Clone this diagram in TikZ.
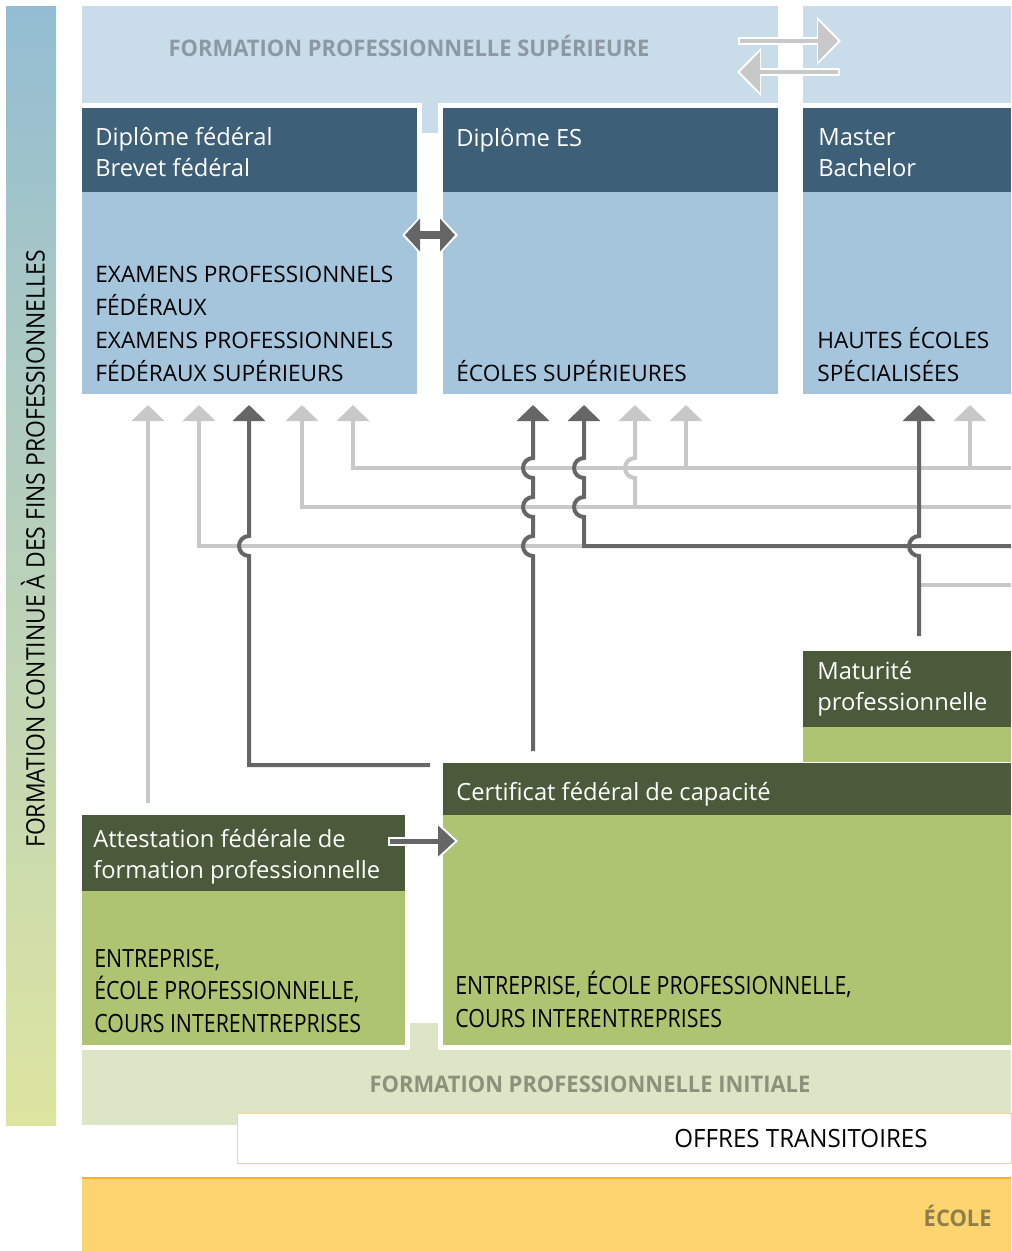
\documentclass[tikz,border=0pt]{standalone}
\usepackage{fontspec}
\setmainfont{Open Sans}
\newfontfamily\narrowfont[FakeStretch=0.85]{Open Sans}
\newfontfamily\bandfont[FakeStretch=0.96]{Open Sans}
\newfontfamily\rotfont[FakeStretch=0.9]{Open Sans}
\usepackage{tikz}
\usetikzlibrary{arrows.meta,positioning,calc}

\definecolor{bandblue}{HTML}{C9DCEA}
\definecolor{hdrblue}{HTML}{3D5F78}
\definecolor{bodyblue}{HTML}{A5C5DC}
\definecolor{hdrgreen}{HTML}{4A5A3A}
\definecolor{bodygreen}{HTML}{AEC471}
\definecolor{bandgreen}{HTML}{DCE5C6}
\definecolor{ecolefill}{HTML}{FDD470}
\definecolor{ecoleline}{HTML}{F6B130}
\definecolor{offrline}{HTML}{FBD291}
\definecolor{suptext}{HTML}{8C99A2}
\definecolor{inittext}{HTML}{8C917B}
\definecolor{ecoletext}{HTML}{8D7E4C}
\definecolor{dgray}{HTML}{666666}
\definecolor{lgray}{HTML}{C8C8C8}

\begin{document}
\begin{tikzpicture}
    [ x=0.02cm,
        y=-0.02cm,
        panel/.style 2 args={anchor=north west, inner sep=0pt, outer sep=0pt,
            minimum width=#1*0.02cm, minimum height=#2*0.02cm},
        hdrtext/.style={anchor=base west, inner sep=0pt, align=left, text=white,
            font=\fontsize{13.5}{17.5}\selectfont},
        bluetext/.style={anchor=base west, inner sep=0pt, align=left,
            font=\fontsize{12.9}{18.6}\selectfont},
        greentext/.style={anchor=base west, inner sep=0pt, align=left,
            font=\narrowfont\fontsize{14.3}{18.5}\selectfont},
        bandtext/.style={anchor=base, inner sep=0pt,
            font=\bandfont\bfseries\fontsize{13}{15}\selectfont},
        dline/.style={draw=dgray, line width=0.08cm},
        lline/.style={draw=lgray, line width=0.08cm},
        uptip/.style={-{Triangle[width=0.64cm,length=0.32cm]}},
        jumpup/.style={insert path={arc[start angle=90, end angle=270, radius=10]}},
    ]

    \useasboundingbox (0,0) rectangle (1011,1251);

    \node
        [ panel={50}{1119},
            top color={rgb,255:red,148;green,189;blue,211},
            middle color={rgb,255:red,186;green,207;blue,198},
            bottom color={rgb,255:red,222;green,229;blue,161},
        ] (contbar) at (6,6) {};
    \node
        [ rotate=90,
            inner sep=0pt,
            font=\rotfont\fontsize{14.5}{16}\selectfont,
        ] (conttitle) at (33,549) {FORMATION CONTINUE À DES FINS PROFESSIONNELLES};

    \node [panel={696}{97}, fill=bandblue] (supband) at (82,6) {};
    \node [panel={16}{31}, fill=bandblue] (suptab) at (422,102) {};
    \node [panel={208}{97}, fill=bandblue] (supband2) at (803,6) {};
    \node [bandtext, text=suptext] (suptitle) at (409,56) {FORMATION PROFESSIONNELLE SUPÉRIEURE};

    \node [panel={335}{84}, fill=hdrblue] (examhdr) at (82,108) {};
    \node [panel={335}{202}, fill=bodyblue] (exam) at (82,192) {};
    \node [panel={335}{84}, fill=hdrblue] (eshdr) at (443,108) {};
    \node [panel={335}{202}, fill=bodyblue] (es) at (443,192) {};
    \node [panel={208}{84}, fill=hdrblue] (heshdr) at (803,108) {};
    \node [panel={208}{202}, fill=bodyblue] (hes) at (803,192) {};

    \node [hdrtext] (examtitle) at ([shift={(13,68)}]examhdr.north west) {Diplôme fédéral\\Brevet fédéral};
    \node [hdrtext] (estitle) at ([shift={(13,38)}]eshdr.north west) {Diplôme ES};
    \node [hdrtext] (hestitle) at ([shift={(15,68)}]heshdr.north west) {Master\\Bachelor};

    \node [bluetext] (examtext) at ([shift={(13,189)}]exam.north west)
        {EXAMENS PROFESSIONNELS\\FÉDÉRAUX\\EXAMENS PROFESSIONNELS\\FÉDÉRAUX SUPÉRIEURS};
    \node [bluetext] (estext) at ([shift={(13,189)}]es.north west) {ÉCOLES SUPÉRIEURES};
    \node [bluetext] (hestext) at ([shift={(14,189)}]hes.north west) {HAUTES ÉCOLES\\SPÉCIALISÉES};

    \node [panel={208}{76}, fill=hdrgreen] (matuhdr) at (803,651) {};
    \node [panel={208}{35}, fill=bodygreen] (matu) at (803,727) {};
    \node [panel={568}{52}, fill=hdrgreen] (cfchdr) at (443,763) {};
    \node [panel={568}{230}, fill=bodygreen] (cfc) at (443,815) {};
    \node [panel={323}{76}, fill=hdrgreen] (afphdr) at (82,815) {};
    \node [panel={323}{154}, fill=bodygreen] (afp) at (82,891) {};

    \node [hdrtext] (matutitle) at ([shift={(14,59)}]matuhdr.north west) {Maturité\\professionnelle};
    \node [hdrtext] (cfctitle) at ([shift={(13,37)}]cfchdr.north west) {Certificat fédéral de capacité};
    \node [hdrtext] (afptitle) at ([shift={(11,63)}]afphdr.north west) {Attestation fédérale de\\formation professionnelle};

    \node [greentext] (afptext) at ([shift={(12,141)}]afp.north west)
        {ENTREPRISE,\\ÉCOLE PROFESSIONNELLE,\\COURS INTERENTREPRISES};
    \node [greentext] (cfctext) at ([shift={(12,212)}]cfc.north west)
        {ENTREPRISE, ÉCOLE PROFESSIONNELLE,\\COURS INTERENTREPRISES};

    \node [panel={929}{75}, fill=bandgreen] (initband) at (82,1050) {};
    \node [panel={28}{28}, fill=bandgreen] (inittab) at (410,1023) {};
    \node [bandtext, text=inittext] (inittitle) at (590,1092) {FORMATION PROFESSIONNELLE INITIALE};

    \node [panel={774}{50}, fill=white, draw=offrline, line width=0.02cm] (offres) at (237,1113) {};
    \node
        [ anchor=base,
            inner sep=0pt,
            font=\bandfont\fontsize{14.3}{16}\selectfont,
        ] (offrestext) at (801,1147) {OFFRES TRANSITOIRES};

    \node [panel={929}{73}, fill=ecolefill] (ecole) at (82,1178) {};
    \draw [ecoleline, line width=0.03cm] (ecole.north west) -- (ecole.north east);
    \node
        [ anchor=base east,
            inner sep=0pt,
            text=ecoletext,
            font=\bandfont\bfseries\fontsize{13}{15}\selectfont,
        ] (ecoletitle) at (992,1226) {ÉCOLE};

    \coordinate (tip-e1) at (148,405);
    \coordinate (tip-e2) at (199,405);
    \coordinate (tip-e3) at (249,405);
    \coordinate (tip-e4) at (302,405);
    \coordinate (tip-e5) at (353,405);
    \coordinate (tip-s1) at (533,405);
    \coordinate (tip-s2) at (584,405);
    \coordinate (tip-s3) at (635,405);
    \coordinate (tip-s4) at (686,405);
    \coordinate (tip-h1) at (919,405);
    \coordinate (tip-h2) at (970,405);
    \coordinate (r468) at (1011,468);
    \coordinate (r507) at (1011,507);
    \coordinate (r546) at (1011,546);
    \coordinate (r585) at (1011,585);
    \coordinate (afp-src) at (148,803);
    \coordinate (cfc-src1) at (430,765);
    \coordinate (cfc-src2) at (533,751);
    \coordinate (matu-src) at (919,636);

    \draw [lline, uptip] (r468) -| (tip-e5);
    \draw [lline, uptip] (tip-s4 |- r468) -- (tip-s4);
    \draw [lline, uptip] (tip-h2 |- r468) -- (tip-h2);
    \draw [lline, uptip] (r507) -| (tip-e4);
    \draw [lline, uptip] (tip-s3 |- r507) -- ++(0,-29) [jumpup] -- (tip-s3);
    \draw [lline, uptip] (tip-s2 |- r546) -| (tip-e2);
    \draw [lline, uptip] (afp-src) -- (tip-e1);
    \draw [lline] (matu-src |- r585) -- (r585);

    \draw [dline, uptip] (cfc-src1) -| ($(tip-e3 |- r546)+(0,10)$) [jumpup] -- (tip-e3);
    \draw [dline, uptip] (cfc-src2) -- ($(tip-s1 |- r546)+(0,10)$) [jumpup]
        -- ++(0,-19) [jumpup] -- ++(0,-19) [jumpup] -- (tip-s1);
    \draw [dline, uptip] (r546) -- (tip-s2 |- r546) -- ++(0,-29) [jumpup]
        -- ++(0,-19) [jumpup] -- (tip-s2);
    \draw [dline, uptip] (matu-src) -- ($(tip-h1 |- r546)+(0,10)$) [jumpup] -- (tip-h1);

    \coordinate (dbl-l) at (405,235);
    \coordinate (dbl-r) at (455,235);
    \draw
        [ dgray,
            line width=0.16cm,
            {Triangle[width=0.64cm,length=0.3cm]}-{Triangle[width=0.64cm,length=0.3cm]},
            preaction={draw=white, line width=0.24cm, shorten <=-0.06cm, shorten >=-0.06cm,
                {Triangle[width=0.78cm,length=0.38cm]}-{Triangle[width=0.78cm,length=0.38cm]}},
        ] (dbl-l) -- (dbl-r);

    \coordinate (sw-l1) at (740,41);
    \coordinate (sw-r1) at (838,41);
    \coordinate (sw-l2) at (740,72);
    \coordinate (sw-r2) at (838,72);
    \draw
        [ lgray,
            line width=0.08cm,
            -{Triangle[width=0.8cm,length=0.4cm]},
            preaction={draw=white, line width=0.16cm, shorten <=-0.04cm, shorten >=-0.06cm,
                -{Triangle[width=0.94cm,length=0.48cm]}},
        ] (sw-l1) -- (sw-r1);
    \draw
        [ lgray,
            line width=0.08cm,
            -{Triangle[width=0.8cm,length=0.4cm]},
            preaction={draw=white, line width=0.16cm, shorten <=-0.04cm, shorten >=-0.06cm,
                -{Triangle[width=0.94cm,length=0.48cm]}},
        ] (sw-r2) -- (sw-l2);

    \coordinate (afp-out) at (390,841);
    \coordinate (cfc-in) at (455,841);
    \draw
        [ dgray,
            line width=0.1cm,
            -{Triangle[width=0.6cm,length=0.34cm]},
            preaction={draw=white, line width=0.18cm, shorten <=-0.04cm, shorten >=-0.06cm,
                -{Triangle[width=0.74cm,length=0.42cm]}},
        ] (afp-out) -- (cfc-in);

\end{tikzpicture}
\end{document}
